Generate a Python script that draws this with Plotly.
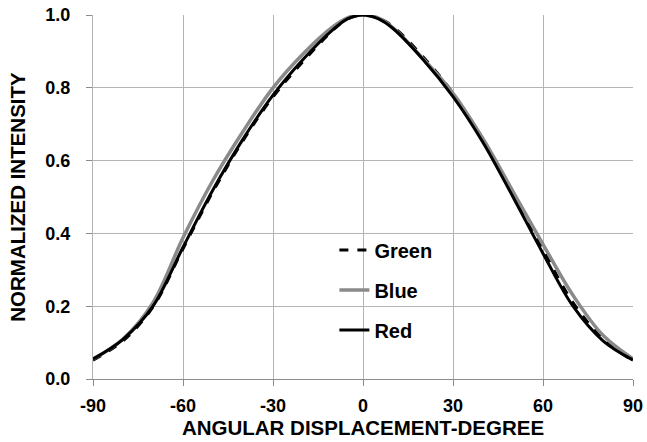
import plotly.graph_objects as go

angles = [-90, -80, -70, -60, -50, -40, -30, -20, -10, -5, 0, 5, 10, 20, 30, 40, 50, 60, 70, 80, 90]
green = [0.052, 0.105, 0.198, 0.358, 0.515, 0.655, 0.775, 0.872, 0.958, 0.99, 1.0, 0.992, 0.968, 0.885, 0.785, 0.655, 0.505, 0.355, 0.21, 0.11, 0.05]
blue = [0.055, 0.11, 0.21, 0.388, 0.546, 0.68, 0.8, 0.893, 0.968, 0.993, 1.0, 0.992, 0.965, 0.88, 0.785, 0.66, 0.515, 0.37, 0.23, 0.12, 0.055]
red = [0.055, 0.109, 0.2, 0.362, 0.52, 0.659, 0.78, 0.878, 0.96, 0.99, 1.0, 0.99, 0.963, 0.878, 0.776, 0.65, 0.5, 0.345, 0.2, 0.105, 0.052]

x_ticks = [-90, -60, -30, 0, 30, 60, 90]
y_ticks = [0.0, 0.2, 0.4, 0.6, 0.8, 1.0]

FONT = "Liberation Sans, Arial, sans-serif"

fig = go.Figure()
fig.add_trace(go.Scatter(x=angles, y=green, name="Green", mode="lines",
                         line=dict(color="black", width=3, dash="dash", shape="spline"),
                         legendgroup="g"))
fig.add_trace(go.Scatter(x=angles, y=blue, name="Blue", mode="lines",
                         line=dict(color="#8a8a8a", width=3.5, shape="spline"),
                         legendgroup="b"))
fig.add_trace(go.Scatter(x=angles, y=red, name="Red", mode="lines",
                         line=dict(color="black", width=3, shape="spline"),
                         legendgroup="r"))

fig.update_layout(
    width=647, height=442,
    margin=dict(l=93, r=14, t=15, b=63),
    paper_bgcolor="white", plot_bgcolor="white",
    font=dict(family=FONT, size=18, color="black"),
    showlegend=True,
    legend=dict(x=0.447, y=0.408, xanchor="left", yanchor="top",
                bgcolor="rgba(0,0,0,0)", traceorder="grouped",
                tracegroupgap=11,
                font=dict(family=FONT, size=20, color="black", weight="bold")),
    xaxis=dict(range=[-90, 90], tickvals=x_ticks, ticktext=[str(v) for v in x_ticks],
               showgrid=True, gridcolor="#b4b4b4", gridwidth=1,
               showline=True, linecolor="#8c8c8c", linewidth=1,
               ticks="outside", ticklen=6, tickcolor="#8c8c8c",
               zeroline=False, automargin=False, ticklabelstandoff=4,
               tickfont=dict(family=FONT, size=18, weight="bold"),
               title=dict(text="<b>ANGULAR DISPLACEMENT-DEGREE</b>", standoff=2,
                          font=dict(family=FONT, size=20.5))),
    yaxis=dict(range=[0, 1], tickvals=y_ticks, ticktext=[f"{v:.1f}" for v in y_ticks],
               showgrid=True, gridcolor="#b4b4b4", gridwidth=1,
               showline=True, linecolor="#b4b4b4", linewidth=1,
               ticks="outside", ticklen=6, tickcolor="#8c8c8c",
               zeroline=False, automargin=False, ticklabelstandoff=12,
               tickfont=dict(family=FONT, size=18, weight="bold"),
               title=dict(text="<b>NORMALIZED INTENSITY</b>", standoff=14,
                          font=dict(family=FONT, size=20.5))),
)

fig.write_html("out.html", config={"displayModeBar": False},
               post_script="document.body.style.margin='0';document.body.style.overflow='hidden';")
